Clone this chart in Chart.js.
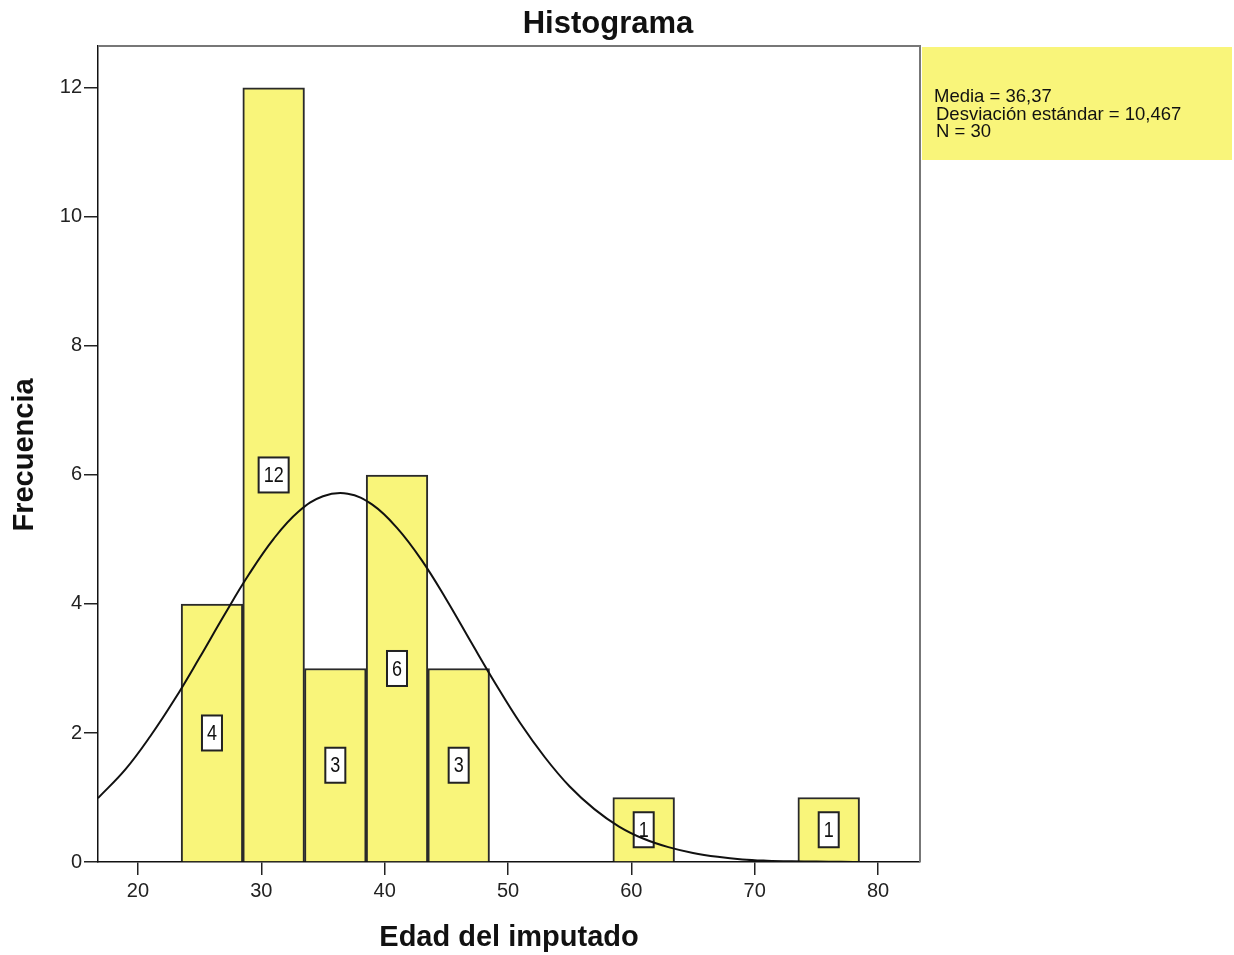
<!DOCTYPE html>
<html>
<head>
<meta charset="utf-8">
<script src="https://cdn.jsdelivr.net/npm/chart.js@4/dist/chart.umd.min.js"></script>
<style>
  html, body { margin: 0; padding: 0; background: #fff; }
  #wrap { width: 1234px; height: 955px; }
</style>
</head>
<body>
<div id="wrap"><canvas id="myChart"></canvas></div>
<script>
/* globals Chart:false */

// Histogram bins (mid points) and frequencies
var binMids = [26, 31, 36, 41, 46, 61, 76]
var binCounts = [4, 12, 3, 6, 3, 1, 1]

// Normal curve
var curveX = [16.76, 19, 21, 23, 25, 27, 29, 31, 33, 35, 37, 39, 41, 43, 45, 47, 49, 51, 53, 55, 57, 59, 61, 63, 65, 67, 69, 71, 73, 75, 77, 79, 81, 83.4]
var curveY = [0.99, 1.44, 1.95, 2.53, 3.17, 3.83, 4.46, 5.01, 5.43, 5.67, 5.71, 5.54, 5.18, 4.68, 4.07, 3.41, 2.76, 2.15, 1.62, 1.17, 0.82, 0.55, 0.36, 0.23, 0.14, 0.08, 0.04, 0.02, 0.01, 0.006, 0.003, 0.001, 0.0005, 0.0002]

var xTicks = [20, 30, 40, 50, 60, 70, 80]
var yTicks = [0, 2, 4, 6, 8, 10, 12]

var statsLines = ['Media = 36,37', 'Desviación estándar = 10,467', 'N = 30']

var FONT = '"Liberation Sans", Arial, sans-serif'
var YELLOW = '#f9f57a'

;(function displayChart() {
  'use strict'

  var ctx = document.getElementById('myChart')

  var barLabels = {
    id: 'barLabels',
    afterDatasetDraw: function (chart, args) {
      if (args.index !== 0) return
      var c = chart.ctx
      var meta = chart.getDatasetMeta(0)
      c.save()
      c.font = '18px ' + FONT
      c.textAlign = 'center'
      c.textBaseline = 'middle'
      meta.data.forEach(function (bar, i) {
        var txt = String(binCounts[i])
        var w = c.measureText(txt).width + 10
        var h = 35
        var cy = chart.scales.y.getPixelForValue(binCounts[i] / 2)
        c.fillStyle = '#fff'
        c.fillRect(bar.x - w / 2, cy - h / 2, w, h)
        c.strokeStyle = '#222'
        c.lineWidth = 2
        c.strokeRect(bar.x - w / 2, cy - h / 2, w, h)
        c.fillStyle = '#111'
        c.save()
        c.translate(bar.x, cy + 1)
        c.scale(1, 1.25)
        c.fillText(txt, 0, 0)
        c.restore()
      })
      c.restore()
    }
  }

  var decorations = {
    id: 'decorations',
    afterDraw: function (chart) {
      var c = chart.ctx
      var a = chart.chartArea
      c.save()
      // top and right frame
      c.strokeStyle = '#777'
      c.lineWidth = 2
      c.beginPath()
      c.moveTo(a.left, a.top)
      c.lineTo(a.right, a.top)
      c.lineTo(a.right, a.bottom)
      c.stroke()

      // title
      c.fillStyle = '#111'
      c.font = 'bold 31px ' + FONT
      c.textAlign = 'center'
      c.textBaseline = 'alphabetic'
      c.fillText('Histograma', 608, 33)

      // axis titles
      c.font = 'bold 29px ' + FONT
      c.textBaseline = 'middle'
      c.fillText('Edad del imputado', 509, 938)
      c.save()
      c.translate(25, 455)
      c.rotate(-Math.PI / 2)
      c.fillText('Frecuencia', 0, 0)
      c.restore()

      // stats box
      c.fillStyle = YELLOW
      c.fillRect(a.right + 2, 47, 1232 - a.right - 2, 113)
      c.fillStyle = '#111'
      c.font = '18.5px ' + FONT
      c.textAlign = 'left'
      statsLines.forEach(function (s, i) {
        c.fillText(s, i === 0 ? 934 : 936, 97 + i * 17.5)
      })
      c.restore()
    }
  }

  // eslint-disable-next-line no-unused-vars
  var myChart = new Chart(ctx, {
    type: 'bar',
    data: {
      datasets: [{
        type: 'bar',
        data: binMids.map(function (m, i) { return { x: m, y: binCounts[i] } }),
        backgroundColor: YELLOW,
        borderColor: '#2a2a2a',
        borderWidth: 2,
        categoryPercentage: 1,
        barPercentage: 1,
        order: 2
      }, {
        type: 'line',
        data: curveX.map(function (x, i) { return { x: x, y: curveY[i] } }),
        borderColor: '#111',
        borderWidth: 2,
        pointRadius: 0,
        fill: false,
        tension: 0.4,
        order: 1
      }]
    },
    options: {
      responsive: true,
      maintainAspectRatio: false,
      animation: false,
      layout: { padding: { top: 46, left: 0, right: 314, bottom: 0 } },
      plugins: {
        legend: { display: false },
        tooltip: { enabled: false }
      },
      scales: {
        x: {
          type: 'linear',
          min: 16.76,
          max: 83.4,
          offset: false,
          afterFit: function (s) { s.height = 93 },
          afterBuildTicks: function (s) { s.ticks = xTicks.map(function (v) { return { value: v } }) },
          grid: { display: true, drawOnChartArea: false, offset: false, tickLength: 13, color: '#222', lineWidth: 1.5 },
          border: { display: true, color: '#111', width: 1.5 },
          ticks: { color: '#222', font: { family: FONT, size: 20 }, padding: 4, includeBounds: false, maxRotation: 0 }
        },
        y: {
          min: 0,
          max: 12.65,
          afterFit: function (s) { s.width = 98 },
          afterBuildTicks: function (s) { s.ticks = yTicks.map(function (v) { return { value: v } }) },
          grid: { display: true, drawOnChartArea: false, tickLength: 14, color: '#222', lineWidth: 1.5 },
          border: { display: true, color: '#111', width: 1.5 },
          ticks: { color: '#222', font: { family: FONT, size: 20 }, padding: 2, includeBounds: false }
        }
      }
    },
    plugins: [barLabels, decorations]
  })
}())
</script>
</body>
</html>
